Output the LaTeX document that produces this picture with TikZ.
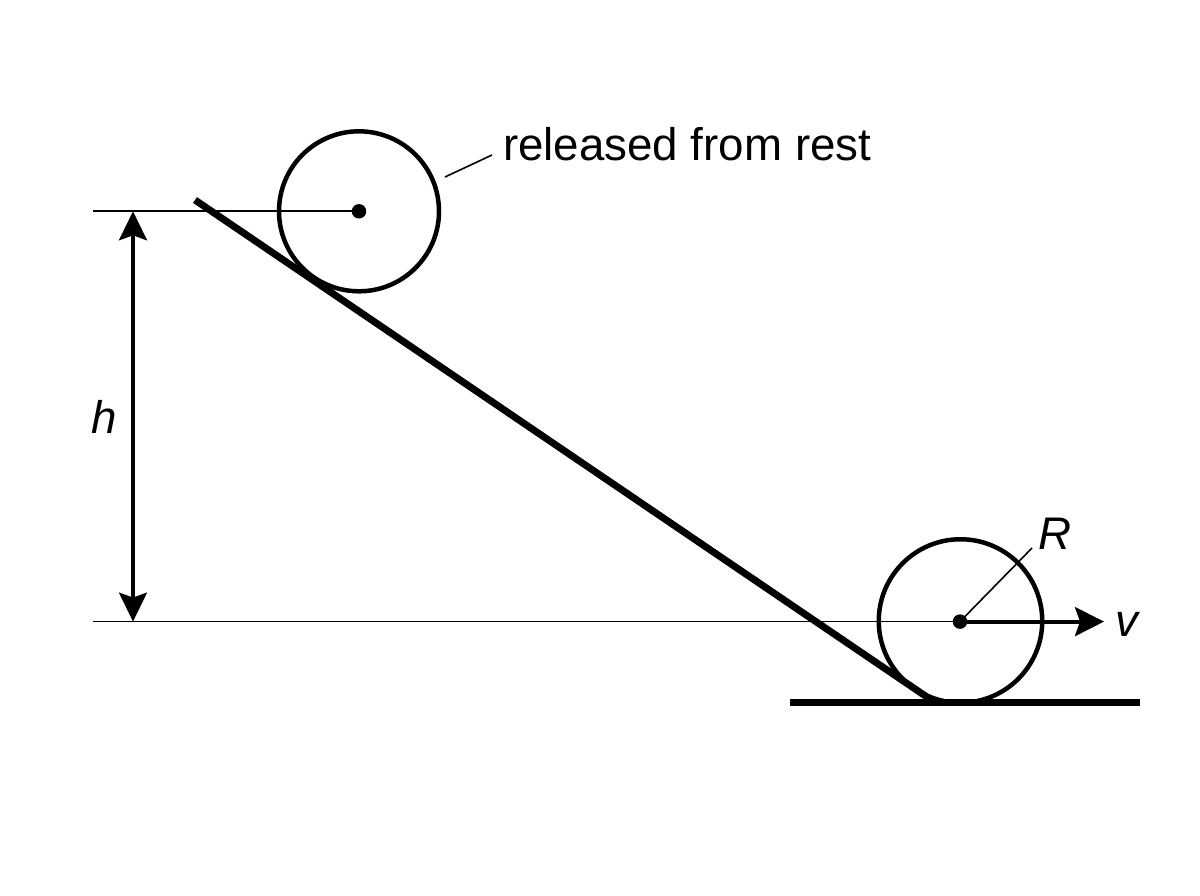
\documentclass[tikz,border=0pt]{standalone}
\usepackage{fontspec}
\setmainfont{Liberation Sans}
\usetikzlibrary{arrows.meta}
\tikzset{
  body/.style={circle,draw=black,line width=4.5pt,inner sep=0pt,outer sep=0pt},
  centredot/.style={circle,fill=black,inner sep=0pt,outer sep=0pt,minimum size=14.5pt},
  thinline/.style={draw=black,line width=1.6pt},
  slope/.style={draw=black,line width=7pt},
  dimarrow/.style={draw=black,line width=3.4pt,{Stealth[length=29pt,width=28pt,inset=5pt]}-{Stealth[length=29pt,width=28pt,inset=5pt]}},
  velarrow/.style={draw=black,line width=4pt,-{Stealth[length=29pt,width=29pt,inset=5pt]}},
  lbl/.style={inner sep=0pt,outer sep=0pt,anchor=base west,text=black,font=\fontsize{45.7pt}{50pt}\selectfont},
  ilbl/.style={lbl,font=\fontsize{45.7pt}{50pt}\selectfont\itshape}
}
\begin{document}
\begin{tikzpicture}[x=1pt,y=-1pt]
\useasboundingbox (0,0) rectangle (1200,896);
\fill[white] (0,0) rectangle (1200,896);
% coordinates
\coordinate (topleft) at (93,211.3);
\coordinate (botleft) at (93,621.6);
\coordinate (arrowtop) at (133,211.3);
\coordinate (arrowbot) at (133,621.6);
\coordinate (slopetop) at (195,200);
\coordinate (slopebot) at (935,702.5);
\coordinate (groundl) at (790,702.7);
\coordinate (groundr) at (1140,702.7);
\coordinate (leadera) at (445,177);
\coordinate (leaderb) at (492,155);
\coordinate (rend) at (1032,548);
\coordinate (vtip) at (1104,621.6);
% bodies
\node[centredot] (c1) at (359,211.3) {};
\node[centredot] (c2) at (960,621.6) {};
\node[body,minimum size=160pt] (top) at (359,211.3) {};
\node[body,minimum size=163.5pt] (bot) at (960.5,621) {};
% lines
\draw[thinline] (topleft) -- (c1.center);
\draw[thinline] (botleft) -- (c2.center);
\draw[slope] (slopetop) -- (slopebot);
\draw[slope] (groundl) -- (groundr);
\draw[dimarrow] (arrowtop) -- (arrowbot);
\draw[velarrow] (c2.center) -- (vtip);
\draw[thinline] (c2.center) -- (rend);
\draw[thinline] (leadera) -- (leaderb);
% labels
\node[lbl] (rest) at (503,161) {released from rest};
\node[ilbl] (hlabel) at (91,433) {h};
\node[ilbl] (rlabel) at (1038,549) {R};
\node[ilbl] (vlabel) at (1115,636) {v};
\end{tikzpicture}
\end{document}
